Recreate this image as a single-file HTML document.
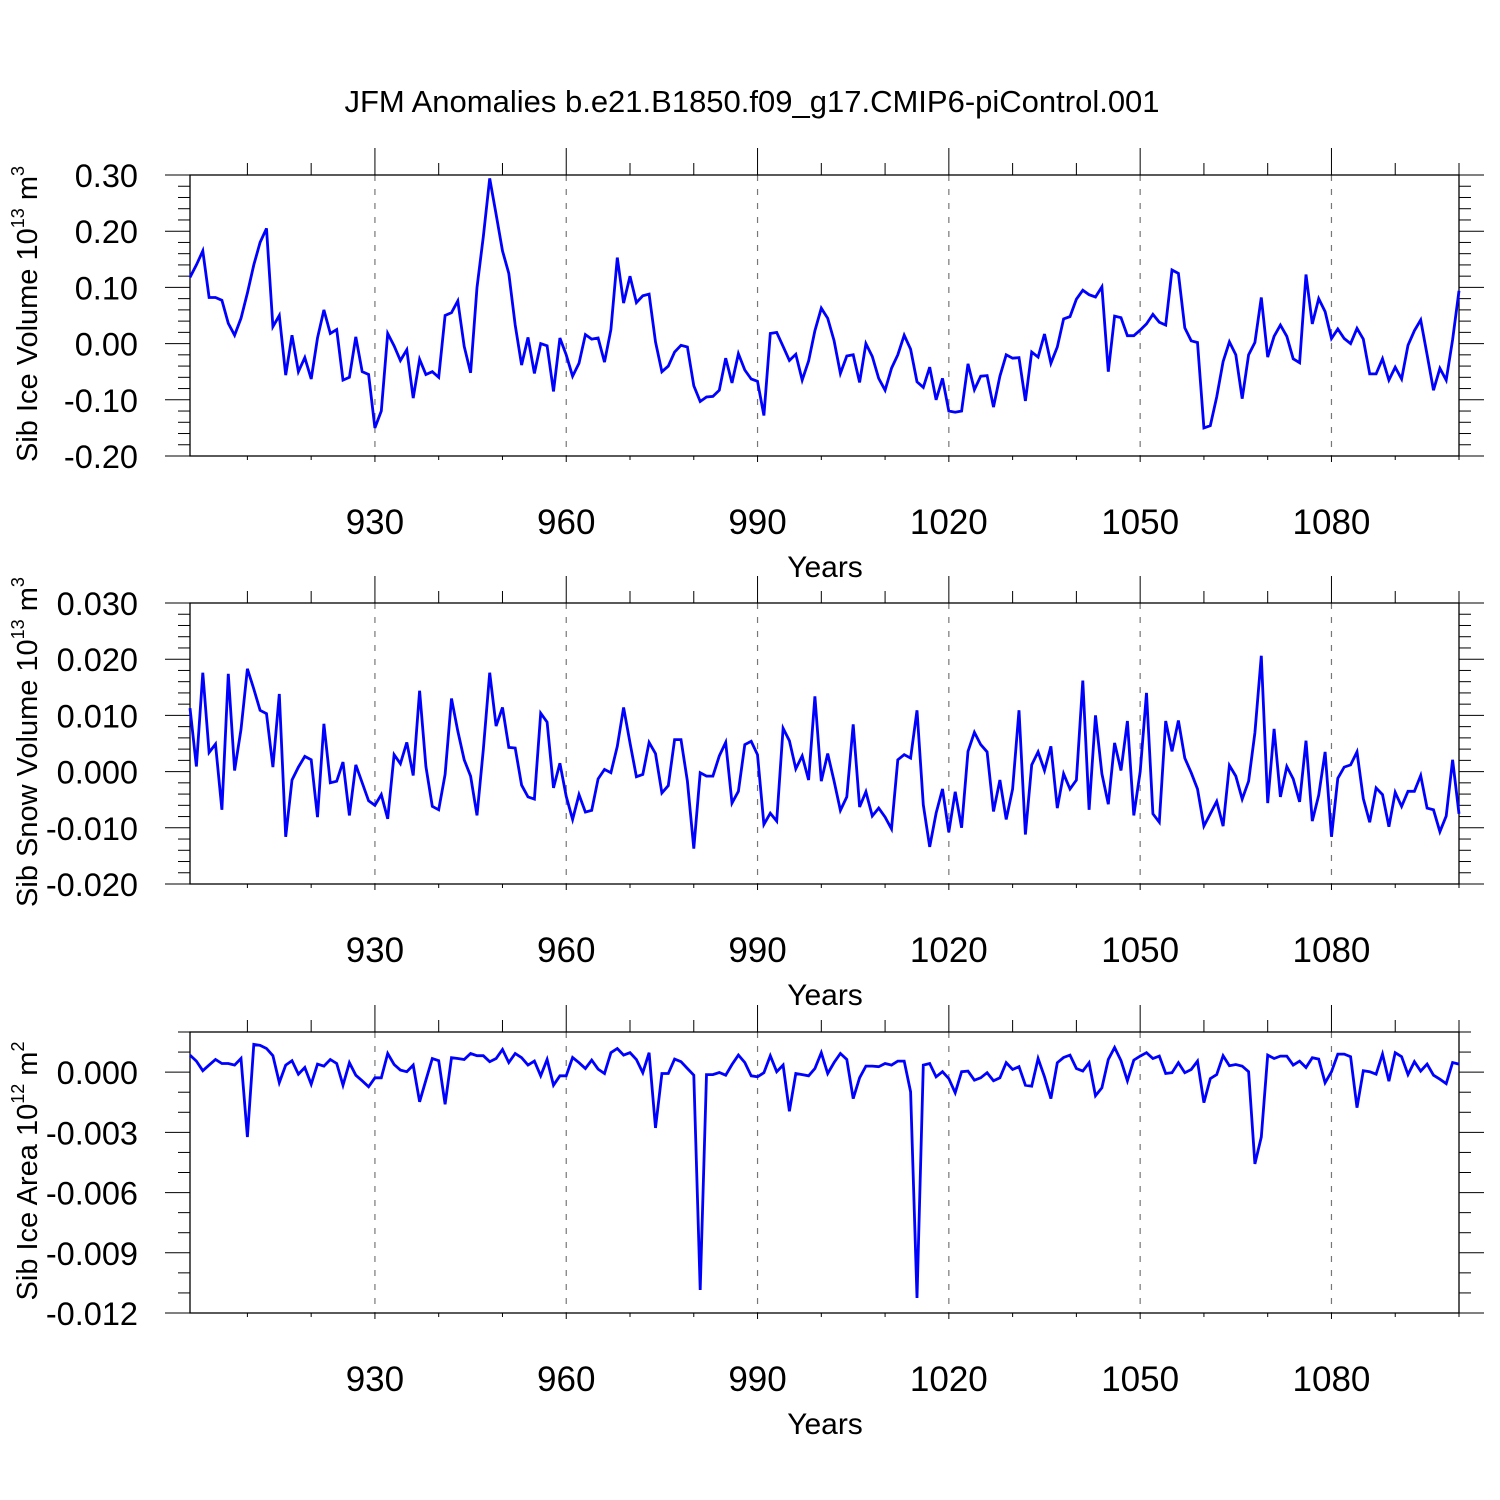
<!DOCTYPE html>
<html><head><meta charset="utf-8"><style>
html,body{margin:0;padding:0;background:#fff;}
svg{display:block;font-family:"Liberation Sans",sans-serif;}
</style></head><body>
<svg id="chart" width="1500" height="1500" viewBox="0 0 1500 1500" xmlns="http://www.w3.org/2000/svg">
<rect width="1500" height="1500" fill="#fff"/>
<text x="752" y="112" font-size="31" text-anchor="middle">JFM Anomalies b.e21.B1850.f09_g17.CMIP6-piControl.001</text>
</svg>
<script>
const years = []; for (let y = 901; y <= 1100; y++) years.push(y);
const xTickYears = [930, 960, 990, 1020, 1050, 1080];
const iceVolume = [0.118,0.14,0.165,0.082,0.082,0.077,0.036,0.015,0.045,0.09,0.14,0.18,0.205,0.03,0.05,-0.056,0.015,-0.05,-0.025,-0.063,0.01,0.06,0.018,0.025,-0.065,-0.06,0.012,-0.05,-0.055,-0.15,
-0.12,0.018,-0.004,-0.03,-0.011,-0.097,-0.028,-0.055,-0.05,-0.06,0.05,0.055,0.076,-0.005,-0.052,0.1,0.19,0.294,0.23,0.165,
0.125,0.033,-0.038,0.011,-0.053,0.0,-0.004,-0.085,0.01,-0.02,-0.058,-0.035,0.016,0.008,0.01,-0.033,0.025,0.153,0.072,0.12,
0.073,0.085,0.088,0.003,-0.05,-0.04,-0.015,-0.003,-0.006,-0.075,-0.103,-0.095,-0.094,-0.083,-0.026,-0.07,-0.018,-0.047,-0.063,-0.067,
-0.128,0.018,0.02,-0.005,-0.03,-0.019,-0.065,-0.031,0.023,0.063,0.045,0.005,-0.053,-0.022,-0.02,-0.069,0.0,-0.023,-0.062,-0.083,
-0.044,-0.02,0.015,-0.01,-0.068,-0.078,-0.042,-0.1,-0.062,-0.12,-0.122,-0.12,-0.036,-0.082,-0.058,-0.057,-0.113,-0.058,-0.02,-0.026,
-0.025,-0.102,-0.015,-0.024,0.017,-0.035,-0.006,0.044,0.048,0.079,0.095,0.087,0.083,0.101,-0.05,0.049,0.046,0.014,0.014,0.024,
0.035,0.052,0.038,0.033,0.131,0.125,0.028,0.005,0.002,-0.15,-0.146,-0.095,-0.032,0.003,-0.02,-0.098,-0.02,0.002,0.082,-0.024,
0.013,0.033,0.013,-0.027,-0.034,0.123,0.035,0.08,0.057,0.009,0.026,0.009,0.0,0.027,0.008,-0.054,-0.054,-0.027,-0.065,-0.042,
-0.063,-0.003,0.023,0.042,-0.02,-0.083,-0.044,-0.065,0.007,0.094];
const snowVolumeMilli = [11.3,0.9,17.6,3.4,4.9,-6.8,17.4,0.2,7.5,18.3,14.7,10.9,10.3,0.8,13.8,-11.6,-1.5,0.8,2.7,2.1,-8.1,8.5,-2.0,-1.7,1.7,-7.8,1.2,-2.0,-5.2,-6.0,
-4.1,-8.4,3.0,1.4,5.2,-0.7,14.4,0.9,-6.2,-6.8,-0.5,13.0,7.2,2.1,-0.8,-7.8,3.9,17.6,8.1,11.4,
4.3,4.2,-2.4,-4.5,-4.9,10.4,8.8,-2.9,1.5,-4.4,-8.5,-4.1,-7.2,-6.9,-1.3,0.4,-0.2,4.5,11.4,5.1,
-0.9,-0.5,5.2,3.2,-3.8,-2.5,5.7,5.7,-1.7,-13.7,-0.2,-0.8,-0.8,2.8,5.2,-5.6,-3.5,4.8,5.4,3.0,
-9.4,-7.4,-8.8,7.7,5.5,0.5,2.8,-1.5,13.4,-1.7,3.2,-1.7,-6.9,-4.5,8.4,-6.3,-3.6,-7.9,-6.5,-8.1,
-10.2,2.1,3.0,2.4,10.9,-5.9,-13.4,-7.4,-3.1,-10.8,-3.6,-10.0,3.6,7.0,4.8,3.5,-7.1,-1.5,-8.5,-3.1,
10.9,-11.2,1.2,3.5,0.2,4.5,-6.5,-0.4,-3.1,-1.5,16.2,-6.8,10.0,-0.4,-5.8,5.1,0.2,9.0,-7.8,0.0,
14.0,-7.5,-9.0,9.0,3.6,9.1,2.4,-0.2,-3.1,-9.7,-7.5,-5.3,-9.7,1.1,-0.8,-4.9,-1.7,6.9,20.6,-5.6,
7.6,-4.5,0.9,-1.3,-5.4,5.5,-8.8,-4.2,3.5,-11.6,-1.2,0.8,1.2,3.5,-4.8,-9.0,-2.9,-4.1,-9.8,-3.7,
-6.2,-3.5,-3.5,-0.7,-6.5,-6.8,-10.7,-7.9,2.1,-7.5];
const iceAreaE4 = [8.5,5.5,0.7,3.5,6.3,4.3,4.3,3.5,6.8,-32.3,13.8,13.3,11.8,8.2,-5.2,3.5,5.7,-1.0,2.3,-6.0,4.0,3.0,6.3,4.3,-6.5,4.7,-1.5,-4.3,-7.3,-2.8,
-2.8,9.3,3.8,1.0,0.2,3.5,-14.8,-4.0,6.8,5.7,-16.0,7.2,6.8,6.3,9.3,8.2,8.2,5.2,6.8,11.3,
4.8,9.3,7.2,3.5,5.5,-1.8,6.3,-6.5,-1.8,-1.8,7.3,4.7,1.8,6.0,1.5,-0.7,9.7,11.8,8.5,9.7,
6.3,-0.3,9.7,-27.8,-0.7,-0.7,6.5,5.2,1.8,-1.5,-108.5,-1.2,-1.2,-0.2,-1.5,3.8,8.5,4.8,-1.8,-2.3,
-0.3,8.2,0.2,3.5,-19.5,-0.7,-1.2,-1.8,1.8,9.7,-0.7,4.8,9.3,6.3,-13.2,-2.8,3.0,3.0,2.7,4.3,
3.5,5.5,5.5,-9.8,-112.5,3.5,4.3,-2.3,0.2,-3.2,-10.3,0.2,0.5,-4.0,-2.8,-0.3,-4.3,-2.8,4.7,1.3,
2.7,-6.5,-7.0,6.8,-2.3,-13.2,4.7,7.3,8.5,1.8,0.5,4.7,-11.8,-7.8,6.3,12.3,5.7,-4.3,6.0,8.0,
9.7,6.8,8.0,-0.7,-0.3,4.7,-0.3,1.3,5.5,-15.2,-3.2,-1.2,8.2,3.2,3.8,3.0,0.2,-45.7,-32.3,8.5,
6.8,8.0,8.0,3.5,5.5,2.3,7.2,6.5,-5.3,0.2,9.0,9.0,7.7,-17.7,0.7,0.2,-1.0,9.0,-4.5,9.7,
7.7,-1.2,5.2,0.5,4.0,-1.5,-3.5,-5.7,4.8,4.0];
const iceTicks = [0.30,0.20,0.10,0.00,-0.10,-0.20];
const iceTickLabels = ["0.30","0.20","0.10","0.00","-0.10","-0.20"];
const snowTicks = [0.030,0.020,0.010,0.000,-0.010,-0.020];
const snowTickLabels = ["0.030","0.020","0.010","0.000","-0.010","-0.020"];
const areaTicks = [0.000,-0.003,-0.006,-0.009,-0.012];
const areaTickLabels = ["0.000","-0.003","-0.006","-0.009","-0.012"];

const NS = "http://www.w3.org/2000/svg";
const svg = document.getElementById('chart');
const X0 = 190, X1 = 1459;
function xs(yr){ return X0 + (yr - 901) / (1100 - 901) * (X1 - X0); }
function mk(tag, attrs, parent){ const e = document.createElementNS(NS, tag); for (const k in attrs) e.setAttribute(k, attrs[k]); (parent||svg).appendChild(e); return e; }

function panel(name, top, ymin, ymax, minorStep, ticks, labels, values, titleParts){
  const bot = top + 281;
  const ys = v => bot - (v - ymin) / (ymax - ymin) * 281;
  const g = mk('g', {});
  
  
  xTickYears.forEach(yr => {
    const l = mk('line', {x1: xs(yr), x2: xs(yr), y1: top, y2: bot, stroke: '#777', 'stroke-width': 1.2, 'stroke-dasharray': '6,8'}, g);
    
    
  });
  for (let yr = 910; yr <= 1100; yr += 10) {
    const major = (yr - 930) % 30 === 0;
    const len = major ? 27 : 12;
    mk('line', {x1: xs(yr), x2: xs(yr), y1: top, y2: top - len, stroke: '#000', 'stroke-width': 1}, g);
    mk('line', {x1: xs(yr), x2: xs(yr), y1: bot, y2: bot + (major ? 6 : 4), stroke: '#000', 'stroke-width': 1}, g);
  }
  const nMinor = Math.round((ymax - ymin) / minorStep);
  for (let i = 0; i <= nMinor; i++) {
    const v = ymin + i * minorStep;
    const major = ticks.some(t => Math.abs(t - v) < minorStep / 10);
    const len = major ? 25 : 12;
    const y = ys(v);
    mk('line', {x1: X0, x2: X0 - len, y1: y, y2: y, stroke: '#000', 'stroke-width': 1}, g);
    mk('line', {x1: X1, x2: X1 + len, y1: y, y2: y, stroke: '#000', 'stroke-width': 1}, g);
  }
  const fr = mk('rect', {x: X0, y: top, width: X1 - X0, height: 281, fill: 'none', stroke: '#000', 'stroke-width': 1.3}, g);
  
  
  ticks.forEach((t, i) => {
    const tx = mk('text', {x: 138, y: ys(t) + 12, 'font-size': 32.5, 'text-anchor': 'end'}, g);
    tx.textContent = labels[i];
    
    
  });
  xTickYears.forEach(yr => {
    const tx = mk('text', {x: xs(yr), y: bot + 78, 'font-size': 35, 'text-anchor': 'middle'}, g);
    tx.textContent = String(yr);
    
    
  });
  const xt = mk('text', {x: 825, y: bot + 121, 'font-size': 30, 'text-anchor': 'middle'}, g);
  xt.textContent = 'Years';
  
  
  const yt = mk('text', {x: 0, y: 0, 'font-size': 29, 'text-anchor': 'middle', transform: 'translate(37,' + (top + 139) + ') rotate(-90)'}, g);
  
  
  const s1 = mk('tspan', {}, yt); s1.textContent = titleParts[0];
  const s2 = mk('tspan', {dy: -13, 'font-size': 18}, yt); s2.textContent = titleParts[1];
  const s3 = mk('tspan', {dy: 13}, yt); s3.textContent = ' m';
  const s4 = mk('tspan', {dy: -13, 'font-size': 18}, yt); s4.textContent = titleParts[2];
  const pts = values.map((v, i) => xs(years[i]).toFixed(1) + ',' + ys(v).toFixed(1)).join(' ');
  const pl = mk('polyline', {points: pts, fill: 'none', stroke: '#0000ff', 'stroke-width': 2.8, 'stroke-linejoin': 'miter'}, g);
  
  
}
panel('ice-volume', 175, -0.2, 0.3, 0.02, iceTicks, iceTickLabels, iceVolume, ['Sib Ice Volume 10', '13', '3']);
panel('snow-volume', 603, -0.02, 0.03, 0.002, snowTicks, snowTickLabels, snowVolumeMilli.map(v => v / 1000), ['Sib Snow Volume 10', '13', '3']);
panel('ice-area', 1032, -0.012, 0.002, 0.001, areaTicks, areaTickLabels, iceAreaE4.map(v => v / 10000), ['Sib Ice Area 10', '12', '2']);
</script>
</body></html>
